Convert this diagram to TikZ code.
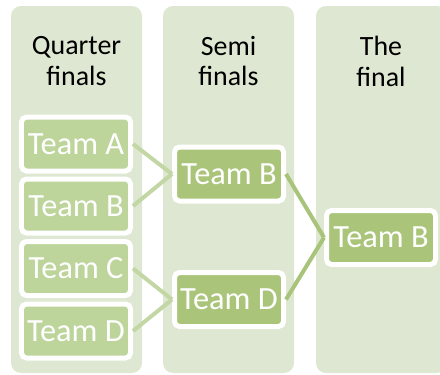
\documentclass[tikz,border=0pt]{standalone}
\usepackage{fontspec}
\setmainfont{Carlito}
\usetikzlibrary{positioning}
\definecolor{colbg}{RGB}{222,231,209}
\definecolor{quartgreen}{RGB}{189,212,154}
\definecolor{semigreen}{RGB}{170,197,122}
\definecolor{quartline}{RGB}{195,215,165}
\definecolor{semiline}{RGB}{168,196,123}
\tikzset{
  column/.style={fill=colbg,draw=none,rounded corners=10bp},
  heading/.style={align=center,font=\fontsize{28}{31}\selectfont,text=black},
  team/.style={draw=white,line width=5bp,rounded corners=5bp,text=white,
    minimum width=109bp,minimum height=54bp,inner sep=0pt,
    font=\fontsize{32.5}{35}\selectfont},
  quarterteam/.style={team,fill=quartgreen},
  semiteam/.style={team,fill=semigreen},
  quarterlink/.style={draw=quartline,line width=4bp},
  semilink/.style={draw=semiline,line width=4bp}
}

\begin{document}
\begin{tikzpicture}[x=1bp,y=1bp]
\useasboundingbox (0,0) rectangle (440,-374);
\clip (0,0) rectangle (440,-374);
% the three rounds
\fill[column] (11,-6) rectangle (142,-373);
\fill[column] (163,-6) rectangle (294,-373);
\fill[column] (316,-6) rectangle (447,-373);
\node[heading] (hquarter) at (76.5,-61) {Quarter\\finals};
\node[heading] (hsemi) at (228.5,-61) {Semi\\finals};
\node[heading] (hfinal) at (381,-61) {The\\final};
% quarter finals
\node[quarterteam] (qa) at (76,-144) {Team A};
\node[quarterteam] (qb) at (76,-206) {Team B};
\node[quarterteam] (qc) at (76,-268.5) {Team C};
\node[quarterteam] (qd) at (76,-331) {Team D};
% semi finals
\node[semiteam] (sb) at (229,-174) {Team B};
\node[semiteam] (sd) at (229,-299.5) {Team D};
% the final
\node[semiteam] (fb) at (381,-237.5) {Team B};
\draw[quarterlink] (qa.east) -- (sb.west);
\draw[quarterlink] (qb.east) -- (sb.west);
\draw[quarterlink] (qc.east) -- (sd.west);
\draw[quarterlink] (qd.east) -- (sd.west);
\draw[semilink] (sb.east) -- (fb.west);
\draw[semilink] (sd.east) -- (fb.west);
\end{tikzpicture}
\end{document}
